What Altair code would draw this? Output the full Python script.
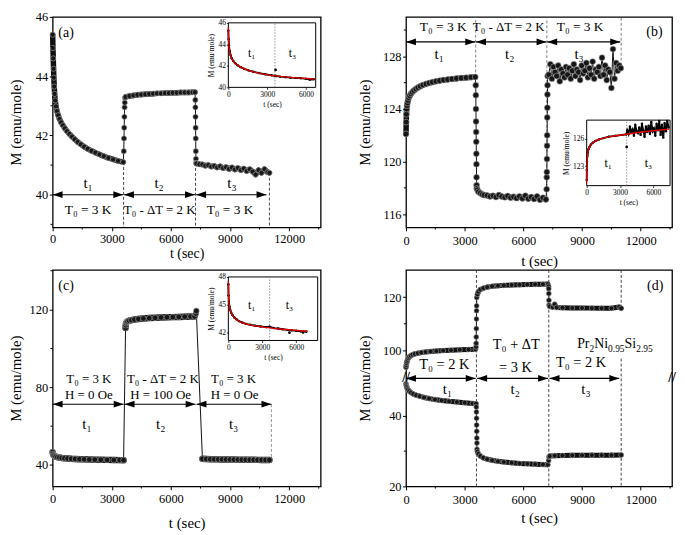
import altair as alt
import pandas as pd

FONT = "Liberation Serif"
XDOM = [0, 13600]
XTICKS = [0, 3000, 6000, 9000, 12000]
XMINOR = [1500, 4500, 7500, 10500, 13500]
Y_TITLE = "M (emu/mole)"
X_TITLE = "t (sec)"
LEFT_HEAD = "M0,0L2.5,-0.85L2.5,0.85Z"
RIGHT_HEAD = "M0,0L-2.5,-0.85L-2.5,0.85Z"

# ---------------- panel (a) ----------------
a_t1_t = [0, 15, 30, 45, 60, 80, 100, 130, 170, 220, 280, 350, 430, 520, 620, 730, 850, 980, 1120, 1270,
          1430, 1600, 1780, 1970, 2170, 2380, 2600, 2830, 3070, 3320, 3580]
a_t1_M = [45.4, 44.95, 44.6, 44.25, 43.95, 43.65, 43.4, 43.18, 42.98, 42.82, 42.68, 42.55, 42.44, 42.34, 42.24,
          42.14, 42.05, 41.96, 41.87, 41.78, 41.7, 41.62, 41.55, 41.48, 41.42, 41.36, 41.3, 41.24, 41.19, 41.14, 41.1]
a_up_t = [3610, 3620, 3630, 3640, 3650, 3660, 3670]
a_up_M = [41.47, 41.9, 42.26, 42.63, 42.95, 43.11, 43.27]
a_t2_t = [3700, 3900, 4100, 4300, 4500, 4700, 4900, 5100, 5300, 5500, 5700, 5900, 6100, 6300, 6500, 6700, 6900, 7100, 7220]
a_t2_M = [43.3, 43.33, 43.35, 43.37, 43.38, 43.39, 43.4, 43.41, 43.42, 43.42, 43.43, 43.43, 43.44, 43.44, 43.45,
          43.45, 43.45, 43.46, 43.46]
a_dn_t = [7240, 7245, 7250, 7255, 7260, 7265, 7270, 7275]
a_dn_M = [43.2, 42.95, 42.63, 42.26, 41.9, 41.47, 41.21, 41.07]
a_t3_t = [7300, 7450, 7600, 7750, 7900, 8050, 8200, 8350, 8500, 8650, 8800, 8950, 9100, 9250, 9400, 9550, 9700,
          9850, 10000, 10150, 10300, 10450, 10600, 10750, 10900, 11000]
a_t3_M = [41.05, 41.03, 41.02, 40.98, 41.0, 40.95, 40.97, 40.92, 40.96, 40.9, 40.93, 40.87, 40.92, 40.85, 40.9,
          40.83, 40.88, 40.8, 40.86, 40.78, 40.68, 40.83, 40.74, 40.86, 40.76, 40.74]
a_vl_t = [3600, 7250, 11000]
a_vl_y1 = [41.1, 41.07, 40.74]
a_vl_y2 = [38.9, 38.9, 38.9]
a_ar_x1 = [0, 3620, 7280]
a_ar_x2 = [3580, 7220, 10850]
a_ar_y = [40, 40, 40]
a_txt = [(680, 45.47, "(a)", 14), (1800, 40.38, "t₁", 15), (5400, 40.38, "t₂", 15), (9100, 40.38, "t₃", 15),
         (1800, 39.5, "T₀ = 3 K", 13.5), (5430, 39.5, "T₀ - ΔT = 2 K", 13), (9000, 39.5, "T₀ = 3 K", 13.5)]

ia_t = [0, 20, 50, 100, 170, 260, 380, 530, 720, 950, 1230, 1560, 1940, 2370, 2850, 3350, 3600, 3700, 4000,
        4400, 4800, 5200, 5600, 6000, 6300, 6600]
ia_M = [45.3, 44.5, 43.9, 43.4, 43.0, 42.7, 42.45, 42.25, 42.05, 41.88, 41.72, 41.58, 41.45, 41.33, 41.22, 41.12,
        41.08, 41.05, 41.0, 40.95, 40.9, 40.88, 40.85, 40.8, 40.72, 40.75]
ia_out_t = [3650]
ia_out_M = [41.62]
ia_fit_t = [0, 10, 30, 60, 100, 160, 250, 380, 550, 800, 1100, 1500, 2000, 2600, 3300, 4000, 4800, 5600, 6400, 6650]
ia_fit_M = [45.6, 44.9, 44.2, 43.7, 43.35, 43.0, 42.7, 42.45, 42.22, 42.0, 41.8, 41.6, 41.42, 41.26, 41.12, 41.02,
            40.93, 40.86, 40.8, 40.78]

# ---------------- panel (b) ----------------
b_t1_t = [0, 10, 20, 35, 50, 70, 100, 140, 190, 250, 320, 400, 500, 610, 730, 870, 1020, 1180, 1350, 1530, 1720,
          1920, 2130, 2350, 2580, 2820, 3070, 3320, 3540]
b_t1_M = [122.1, 123.0, 123.6, 124.0, 124.25, 124.45, 124.65, 124.85, 125.0, 125.15, 125.28, 125.4, 125.52,
          125.63, 125.73, 125.82, 125.9, 125.97, 126.04, 126.1, 126.15, 126.2, 126.24, 126.28, 126.32, 126.35,
          126.38, 126.41, 126.43]
b_dn_t = [3565, 3570, 3575, 3580, 3585, 3590, 3595, 3600, 3605, 3610, 3615]
b_dn_M = [125.8, 125.05, 124.0, 123.05, 122.25, 121.5, 120.6, 119.8, 118.8, 118.2, 117.95]
b_t2_t = [3650, 3700, 3800, 3900, 4000, 4150, 4300, 4450, 4600, 4750, 4900, 5050, 5200, 5350, 5500, 5650, 5800,
          5950, 6100, 6250, 6400, 6550, 6700, 6850, 7000, 7150]
b_t2_M = [117.85, 117.7, 117.6, 117.5, 117.45, 117.42, 117.35, 117.4, 117.3, 117.45, 117.35, 117.28, 117.38,
          117.25, 117.32, 117.22, 117.35, 117.2, 117.4, 117.18, 117.3, 117.15, 117.35, 117.1, 117.25, 117.12]
b_up_t = [7190, 7195, 7200, 7205, 7210, 7215, 7220, 7225, 7230, 7235, 7240]
b_up_M = [117.9, 118.8, 119.2, 120.2, 121.2, 122.0, 123.35, 124.1, 125.1, 125.8, 126.5]
b_t3_t = [7300, 7380, 7460, 7540, 7620, 7700, 7780, 7860, 7940, 8020, 8100, 8180, 8260, 8340, 8420, 8500, 8580,
          8660, 8740, 8820, 8900, 8980, 9060, 9140, 9220, 9300, 9380, 9460, 9540, 9620, 9700, 9780, 9860, 9940,
          10020, 10100, 10180, 10260, 10340, 10420, 10500, 10580, 10660, 10740, 10820, 10900, 10980]
b_t3_M = [126.6, 127.4, 126.3, 127.2, 126.8, 126.5, 127.3, 126.1, 127.0, 126.7, 126.4, 127.2, 126.6, 127.1, 126.3,
          126.9, 127.4, 126.5, 127.0, 126.8, 126.2, 127.3, 126.7, 126.9, 127.5, 126.4, 127.1, 126.6, 127.6, 126.3,
          127.0, 126.8, 127.2, 126.5, 127.9, 126.6, 127.3, 126.2, 127.0, 126.8, 125.6, 128.55, 126.3, 127.5, 126.9,
          127.3, 127.1]
b_vl_t = [3560, 7200, 11000]
b_vl_y1 = [126.4, 117.3, 127.3]
b_vl_y2 = [131, 131, 131]
b_ar_x1 = [0, 3580, 7220]
b_ar_x2 = [3540, 7180, 10950]
b_ar_y = [129.1, 129.1, 129.1]
b_txt = [(12700, 129.85, "(b)", 14), (1900, 130.2, "T₀ = 3 K", 13.5), (5250, 130.2, "T₀ - ΔT = 2 K", 13),
         (8900, 130.2, "T₀ = 3 K", 13.5), (1700, 128.2, "t₁", 15), (5300, 128.2, "t₂", 15), (8850, 128.2, "t₃", 15)]

ib_t = [0, 10, 30, 60, 100, 160, 250, 380, 550, 800, 1100, 1500, 2000, 2600, 3200, 3550,
        3650, 3770, 3890, 4010, 4130, 4250, 4370, 4490, 4610, 4730, 4850, 4970, 5090, 5210, 5330, 5450, 5570,
        5690, 5810, 5930, 6050, 6170, 6290, 6410, 6530, 6650, 6770, 6890, 7010, 7130, 7250, 7370]
ib_M = [121.5, 122.6, 123.5, 124.1, 124.5, 124.85, 125.1, 125.35, 125.55, 125.75, 125.9, 126.05, 126.2, 126.3,
        126.4, 126.45,
        126.9, 126.5, 127.3, 126.7, 127.0, 126.3, 127.5, 126.8, 126.6, 127.2, 126.4, 127.6, 126.9, 126.2, 127.3,
        126.7, 127.4, 126.5, 127.8, 126.8, 127.1, 126.3, 127.6, 126.9, 127.9, 126.4, 127.5, 126.1, 127.7, 126.8,
        127.9, 127.2]
ib_out_t = [3600]
ib_out_M = [125.1]
ib_fit_t = [0, 10, 30, 60, 100, 160, 250, 380, 550, 800, 1100, 1500, 2000, 2600, 3300, 4000, 4800, 5600, 6400,
            7200, 7400]
ib_fit_M = [121.2, 122.4, 123.3, 123.9, 124.4, 124.8, 125.1, 125.35, 125.55, 125.75, 125.9, 126.05, 126.18,
            126.3, 126.42, 126.55, 126.68, 126.8, 126.9, 127.0, 127.02]

# ---------------- panel (c) ----------------
c_t1_t = [0, 20, 50, 100, 160, 240, 340, 460, 600, 760, 940, 1140, 1360, 1600, 1860, 2140, 2440, 2760, 3100, 3400, 3600]
c_t1_M = [46.6, 45.6, 45.0, 44.6, 44.3, 44.05, 43.85, 43.65, 43.5, 43.35, 43.22, 43.12, 43.02, 42.93, 42.85,
          42.78, 42.7, 42.64, 42.58, 42.53, 42.5]
c_t2_t = [3700, 3710, 3730, 3760, 3800, 3880, 4000, 4150, 4350, 4600, 4900, 5200, 5500, 5800, 6100, 6400, 6700, 7000, 7200]
c_t2_M = [110.5, 112.0, 113.0, 113.6, 114.0, 114.3, 114.6, 114.9, 115.2, 115.45, 115.65, 115.8, 115.95, 116.05,
          116.15, 116.25, 116.35, 116.45, 116.5]
c_pk_t = [7270, 7290]
c_pk_M = [118.0, 119.3]
c_t3_t = [7600, 7800, 8000, 8200, 8400, 8600, 8800, 9000, 9200, 9400, 9600, 9800, 10000, 10200, 10400, 10600, 10800, 11000]
c_t3_M = [43.2, 43.1, 43.0, 42.95, 42.9, 42.88, 42.85, 42.82, 42.8, 42.78, 42.75, 42.72, 42.7, 42.68, 42.65,
          42.63, 42.6, 42.6]
c_vl_t = [11100]
c_vl_y1 = [71.3]
c_vl_y2 = [42.6]
c_ar_x1 = [0, 3650, 7300]
c_ar_x2 = [3600, 7250, 11100]
c_ar_y = [71.3, 71.3, 71.3]
c_txt = [(680, 132, "(c)", 14), (1835, 84.3, "T₀ = 3 K", 13), (1835, 76, "H = 0 Oe", 13),
         (5590, 84.3, "T₀ - ΔT = 2 K", 13), (5480, 76, "H = 100 Oe", 13), (9180, 84.3, "T₀ = 3 K", 13),
         (9230, 76, "H = 0 Oe", 13), (1740, 61, "t₁", 15), (5480, 61, "t₂", 15), (9180, 61, "t₃", 15)]

ic_t = [0, 20, 50, 100, 170, 260, 380, 530, 720, 950, 1230, 1560, 1940, 2370, 2850, 3350, 3650, 4000, 4400, 4800,
        5200, 5600, 6000, 6400, 6900]
ic_M = [47.2, 46.0, 45.3, 44.8, 44.4, 44.1, 43.85, 43.6, 43.4, 43.2, 43.05, 42.9, 42.8, 42.7, 42.62, 42.55, 42.6,
        42.45, 42.4, 42.32, 42.25, 42.2, 42.15, 42.1, 42.05]
ic_out_t = [5400, 6600]
ic_out_M = [41.95, 41.98]
ic_fit_t = [0, 10, 30, 60, 100, 160, 250, 380, 550, 800, 1100, 1500, 2000, 2600, 3300, 4000, 4800, 5600, 6400, 7000]
ic_fit_M = [47.5, 46.4, 45.6, 45.1, 44.7, 44.35, 44.05, 43.8, 43.55, 43.3, 43.1, 42.92, 42.77, 42.64, 42.52,
            42.42, 42.32, 42.24, 42.16, 42.1]

# ---------------- panel (d) ----------------
d_u1_t = [0, 15, 30, 50, 80, 120, 170, 240, 330, 450, 600, 780, 1000, 1250, 1550, 1900, 2300, 2750, 3200, 3550]
d_u1_M = [93.8, 94.6, 95.3, 95.9, 96.6, 97.2, 97.7, 98.1, 98.45, 98.75, 99.0, 99.25, 99.45, 99.65, 99.85, 100.0,
          100.15, 100.3, 100.4, 100.5]
d_uup_t = [3580, 3585, 3590, 3595, 3600, 3605, 3610, 3615]
d_uup_M = [101.4, 102.7, 105.1, 108.2, 111.8, 114.9, 116.7, 119.8]
d_u2_t = [3650, 3700, 3800, 3950, 4150, 4400, 4700, 5000, 5400, 5800, 6200, 6600, 7000, 7250]
d_u2_M = [121.0, 122.0, 122.8, 123.3, 123.7, 124.0, 124.2, 124.35, 124.5, 124.6, 124.7, 124.75, 124.8, 124.85]
d_udn_t = [7290, 7295, 7300, 7305, 7310]
d_udn_M = [124.0, 123.1, 121.3, 118.8, 117.0]
d_u3_t = [7350, 7500, 7600, 7700, 8000, 8500, 9000, 9500, 10000, 10500, 10900, 11000]
d_u3_M = [116.5, 116.2, 117.3, 116.1, 116.0, 115.9, 115.9, 115.85, 115.8, 115.8, 116.3, 115.8]
d_l1_t = [0, 15, 30, 60, 100, 160, 250, 370, 520, 700, 920, 1180, 1480, 1820, 2200, 2600, 3000, 3400, 3580]
d_l1_M = [49.0, 48.6, 48.2, 47.8, 47.4, 47.0, 46.6, 46.2, 45.85, 45.55, 45.2, 44.9, 44.6, 44.35, 44.1, 43.9,
          43.7, 43.5, 43.4]
d_ldn_t = [3595, 3600, 3605, 3610, 3615, 3620, 3625, 3630]
d_ldn_M = [42.5, 41.1, 39.3, 37.4, 35.6, 33.7, 32.3, 30.5]
d_l2_t = [3650, 3700, 3800, 3950, 4150, 4400, 4700, 5000, 5400, 5800, 6200, 6600, 7000, 7250]
d_l2_M = [29.8, 29.2, 28.6, 28.1, 27.7, 27.4, 27.1, 26.9, 26.7, 26.5, 26.4, 26.3, 26.2, 26.15]
d_lup_t = [7290, 7310]
d_lup_M = [27.3, 28.3]
d_l3_t = [7350, 7600, 8000, 8500, 9000, 9500, 10000, 10500, 11000]
d_l3_M = [28.6, 28.7, 28.75, 28.8, 28.8, 28.85, 28.85, 28.85, 28.9]
d_vl_t = [3600, 7300, 11000, 11000]
d_vl_y1 = [130.1, 130.1, 130.1, 97.0]
d_vl_y2 = [20, 20, 115.2, 20]
d_ar_x1 = [0, 3640, 7340]
d_ar_x2 = [3560, 7260, 10900]
d_ar_y = [70, 70, 70]
d_txt = [(12740, 124.0, "(d)", 14), (1960, 94.7, "T₀ = 2 K", 14.5), (5640, 102.0, "T₀ + ΔT", 14.5),
         (5600, 93.5, "= 3 K", 14.5), (8950, 95.4, "T₀ = 2 K", 14.5), (2120, 47.6, "t₁", 15),
         (5580, 47.6, "t₂", 15), (9200, 47.6, "t₃", 15)]
d_breaks_t = [0, 13600]
d_breaks_M = [70, 70]
d_formula = [("Pr", 14), ("2", 9.5), ("Ni", 14), ("0.95", 9.5), ("Si", 14), ("2.95", 9.5)]
d_formula_pos = (10680, 102.4)


def series_df(parts):
    rows = []
    i = 0
    for seg, (ts, ms, band, ser) in enumerate(parts):
        for t, m in zip(ts, ms):
            rows.append(dict(t=t, M=m, seg=seg, band=band, ser=ser, i=i))
            i += 1
    return pd.DataFrame(rows)


AX_COMMON = dict(labelFont=FONT, titleFont=FONT, labelColor="black", titleColor="black", tickColor="black",
                 titleFontWeight="normal", domain=False, grid=False, labelFlush=False, labelOverlap=False,
                 zindex=1, format="d")


def main_layers(cfg):
    W, H = cfg["W"], cfg["H"]
    xs = alt.Scale(domain=XDOM, nice=False, zero=False)
    ys = cfg["yscale"]
    xaxis = alt.Axis(values=XTICKS, title=X_TITLE, orient="bottom", labelFontSize=12.5,
                     titleFontSize=cfg["xtfs"], tickSize=3.5, tickWidth=1, labelPadding=cfg["xlp"],
                     titlePadding=cfg["xtp"], **AX_COMMON)
    yaxis = alt.Axis(values=cfg["yticks"], title=Y_TITLE, orient="left", labelFontSize=12.5,
                     titleFontSize=15, tickSize=3.5, tickWidth=1, labelPadding=1.5, titleX=cfg["titleX"],
                     titleY=H / 2, **AX_COMMON)

    def X(f):
        return alt.X(f, type="quantitative", scale=xs, axis=xaxis)

    def Y(f):
        return alt.Y(f, type="quantitative", scale=ys, axis=yaxis)

    df = series_df(cfg["parts"])
    L = []
    vl = pd.DataFrame({"t": cfg["vl_t"], "y1": cfg["vl_y1"], "y2": cfg["vl_y2"]})
    L.append(alt.Chart(vl).mark_rule(strokeDash=[3, 2], strokeWidth=0.9, color=cfg["vlc"]).encode(
        x=X("t"), y=Y("y1"), y2="y2"))
    ar = pd.DataFrame({"x1": cfg["ar_x1"], "x2": cfg["ar_x2"], "y": cfg["ar_y"]})
    L.append(alt.Chart(ar).mark_rule(strokeWidth=1.2, color="black").encode(x=X("x1"), x2="x2", y=Y("y")))
    L.append(alt.Chart(ar).mark_point(shape=LEFT_HEAD, filled=True, size=64, color="black", opacity=1).encode(
        x=X("x1"), y=Y("y")))
    L.append(alt.Chart(ar).mark_point(shape=RIGHT_HEAD, filled=True, size=64, color="black", opacity=1).encode(
        x=X("x2"), y=Y("y")))
    band = df[df["band"]]
    L.append(alt.Chart(band).mark_line(strokeWidth=cfg["bw"], color="#111111", strokeCap="round",
                                       strokeJoin="round").encode(
        x=X("t"), y=Y("M"), detail="seg:N", order="i:Q"))
    L.append(alt.Chart(df).mark_line(strokeWidth=1, color="#111111").encode(
        x=X("t"), y=Y("M"), detail="ser:N", order="i:Q"))
    L.append(alt.Chart(df).mark_circle(size=cfg["ps"], color="#161616", opacity=1, stroke="#a8a8a8",
                                       strokeWidth=0.6).encode(x=X("t"), y=Y("M")))
    tx = pd.DataFrame(cfg["texts"], columns=["t", "M", "label", "size"])
    L.append(alt.Chart(tx).mark_text(font=FONT, color="black").encode(
        x=X("t"), y=Y("M"), text="label:N", size=alt.Size("size:Q", scale=None)))
    mx = pd.DataFrame({"t": XMINOR})
    L.append(alt.Chart(mx).mark_rule(color="black", strokeWidth=1).encode(
        x=X("t"), y=alt.value(H), y2=alt.value(H + 2.2)))
    my = pd.DataFrame({"M": cfg["yminor"]})
    L.append(alt.Chart(my).mark_rule(color="black", strokeWidth=1).encode(
        y=Y("M"), x=alt.value(0), x2=alt.value(-2.2)))
    if "breaks" in cfg:
        bt, bm = cfg["breaks"]
        bdf = pd.DataFrame({"t": bt, "M": bm})
        L.append(alt.Chart(bdf).mark_text(font=FONT, fontSize=14, fontWeight="bold", color="black",
                                          text="//").encode(x=X("t"), y=Y("M")))
    if "formula" in cfg:
        parts, (ft, fm) = cfg["formula"]
        widths = {"P": 0.556, "r": 0.333, "N": 0.722, "i": 0.278, "S": 0.556, ".": 0.25}
        total = 0
        offs = []
        for s, fs in parts:
            offs.append(total)
            total += sum(widths.get(ch, 0.5) for ch in s) * fs
        fdf = pd.DataFrame({"t": [ft], "M": [fm]})
        for (s, fs), o in zip(parts, offs):
            sub = fs < 12
            L.append(alt.Chart(fdf).mark_text(font=FONT, color="black", align="left", fontSize=fs,
                                              dx=o - total / 2, dy=5 if sub else 0, text=s).encode(
                x=X("t"), y=Y("M")))
    return alt.layer(*L)


def inset_layers(ic, H):
    xs = alt.Scale(domain=ic["xdom"], range=ic["xr"], nice=False, zero=False)
    ys = alt.Scale(domain=ic["ydom"], range=[ic["yr"][1], ic["yr"][0]], nice=False, zero=False)
    xaxis = alt.Axis(orient="bottom", offset=ic["yr"][1] - H, values=[0, 3000, 6000],
                     title=X_TITLE, labelFontSize=7.5, titleFontSize=7.5, tickSize=2, tickWidth=0.8,
                     labelPadding=1, titlePadding=3, **AX_COMMON)
    yaxis = alt.Axis(orient="left", offset=-ic["xr"][0], values=ic["yticks"], title=Y_TITLE,
                     labelFontSize=7.5, titleFontSize=7.5, tickSize=2, tickWidth=0.8, labelPadding=1,
                     titlePadding=2, **AX_COMMON)

    def X(f):
        return alt.X(f, type="quantitative", scale=xs, axis=xaxis)

    def Y(f):
        return alt.Y(f, type="quantitative", scale=ys, axis=yaxis)

    L = []
    fr = pd.DataFrame({"x0": [ic["xdom"][0]], "x1": [ic["xdom"][1]], "y0": [ic["ydom"][0]], "y1": [ic["ydom"][1]]})
    L.append(alt.Chart(fr).mark_rect(fill="white", stroke="black", strokeWidth=1).encode(
        x=X("x0"), x2="x1", y=Y("y0"), y2="y1"))
    dl = pd.DataFrame({"t": [ic["div"]], "y0": [ic["ydom"][0]], "y1": [ic["ydom"][1]]})
    L.append(alt.Chart(dl).mark_rule(strokeDash=[1.5, 1.5], strokeWidth=0.8, color="#777777").encode(
        x=X("t"), y=Y("y0"), y2="y1"))
    d = pd.DataFrame({"t": ic["t"], "M": ic["M"]})
    L.append(alt.Chart(d).mark_line(strokeWidth=1.8, color="black").encode(x=X("t"), y=Y("M")))
    L.append(alt.Chart(d).mark_circle(size=6, color="black", opacity=1).encode(x=X("t"), y=Y("M")))
    o = pd.DataFrame({"t": ic["out_t"], "M": ic["out_M"]})
    L.append(alt.Chart(o).mark_circle(size=8, color="black", opacity=1).encode(x=X("t"), y=Y("M")))
    f = pd.DataFrame({"t": ic["fit_t"], "M": ic["fit_M"]})
    L.append(alt.Chart(f).mark_line(strokeWidth=1.4, color="#e00000").encode(x=X("t"), y=Y("M")))
    lb = pd.DataFrame(ic["labels"], columns=["t", "M", "label"])
    L.append(alt.Chart(lb).mark_text(font=FONT, fontSize=12, color="black").encode(
        x=X("t"), y=Y("M"), text="label:N"))
    return alt.layer(*L)


def panel(cfg, ic=None):
    m = main_layers(cfg)
    if ic is None:
        ch = m
    else:
        ch = alt.layer(m, inset_layers(ic, cfg["H"])).resolve_scale(x="independent", y="independent")
    return ch.properties(width=cfg["W"], height=cfg["H"])


cfg_a = dict(W=270, H=212, yscale=alt.Scale(domain=[38.9, 46], nice=False, zero=False),
             yticks=[40, 42, 44, 46], yminor=[39, 41, 43, 45], titleX=-29, xtfs=14, xlp=2, xtp=1,
             parts=[(a_t1_t, a_t1_M, True, 0), (a_up_t, a_up_M, False, 0), (a_t2_t, a_t2_M, True, 0),
                    (a_dn_t, a_dn_M, False, 0), (a_t3_t, a_t3_M, True, 0)],
             vl_t=a_vl_t, vl_y1=a_vl_y1, vl_y2=a_vl_y2, vlc="#333333",
             ar_x1=a_ar_x1, ar_x2=a_ar_x2, ar_y=a_ar_y, texts=a_txt, bw=5.5, ps=28)
ins_a = dict(xdom=[0, 6750], ydom=[40, 46], xr=[177, 265], yr=[6, 71], yticks=[40, 42, 44, 46], div=3600,
             t=ia_t, M=ia_M, out_t=ia_out_t, out_M=ia_out_M, fit_t=ia_fit_t, fit_M=ia_fit_M,
             labels=[(1800, 43.2, "t₁"), (4950, 43.2, "t₃")])

cfg_b = dict(W=268, H=212, yscale=alt.Scale(domain=[115, 131], nice=False, zero=False),
             yticks=[116, 120, 124, 128], yminor=[118, 122, 126, 130], titleX=-34, xtfs=15, xlp=4, xtp=6,
             parts=[(b_t1_t, b_t1_M, True, 0), (b_dn_t, b_dn_M, False, 0), (b_t2_t, b_t2_M, True, 0),
                    (b_up_t, b_up_M, False, 0), (b_t3_t, b_t3_M, False, 0)],
             vl_t=b_vl_t, vl_y1=b_vl_y1, vl_y2=b_vl_y2, vlc="#777777",
             ar_x1=b_ar_x1, ar_x2=b_ar_x2, ar_y=b_ar_y, texts=b_txt, bw=5.5, ps=36)
ins_b = dict(xdom=[0, 7500], ydom=[120.9, 128], xr=[182, 266], yr=[104, 170], yticks=[123, 126], div=3600,
             t=ib_t, M=ib_M, out_t=ib_out_t, out_M=ib_out_M, fit_t=ib_fit_t, fit_M=ib_fit_M,
             labels=[(1940, 123.3, "t₁"), (5560, 123.3, "t₃")])

cfg_c = dict(W=270, H=218, yscale=alt.Scale(domain=[29, 140.4], nice=False, zero=False),
             yticks=[40, 80, 120], yminor=[60, 100, 140], titleX=-29, xtfs=15, xlp=3, xtp=10,
             parts=[(c_t1_t, c_t1_M, True, 0), (c_t2_t, c_t2_M, True, 0), (c_pk_t, c_pk_M, False, 0),
                    (c_t3_t, c_t3_M, True, 0)],
             vl_t=c_vl_t, vl_y1=c_vl_y1, vl_y2=c_vl_y2, vlc="#888888",
             ar_x1=c_ar_x1, ar_x2=c_ar_x2, ar_y=c_ar_y, texts=c_txt, bw=6.5, ps=34)
ins_c = dict(xdom=[0, 7900], ydom=[41.1, 48], xr=[177, 267], yr=[7, 71], yticks=[42, 45, 48], div=3650,
             t=ic_t, M=ic_M, out_t=ic_out_t, out_M=ic_out_M, fit_t=ic_fit_t, fit_M=ic_fit_M,
             labels=[(2070, 44.9, "t₁"), (5400, 44.9, "t₃")])

HD = 218
BRK = 109.2
cfg_d = dict(W=268, H=HD,
             yscale=alt.Scale(domain=[20, 50.6, 89.6, 130.1], range=[HD, BRK, BRK, 0], nice=False, zero=False),
             yticks=[20, 40, 100, 120], yminor=[30, 110], titleX=-34, xtfs=15, xlp=3.5, xtp=4.5,
             parts=[(d_u1_t, d_u1_M, True, 0), (d_uup_t, d_uup_M, False, 0), (d_u2_t, d_u2_M, True, 0),
                    (d_udn_t, d_udn_M, False, 0), (d_u3_t, d_u3_M, True, 0),
                    (d_l1_t, d_l1_M, True, 1), (d_ldn_t, d_ldn_M, False, 1), (d_l2_t, d_l2_M, True, 1),
                    (d_lup_t, d_lup_M, False, 1), (d_l3_t, d_l3_M, True, 1)],
             vl_t=d_vl_t, vl_y1=d_vl_y1, vl_y2=d_vl_y2, vlc="#333333",
             ar_x1=d_ar_x1, ar_x2=d_ar_x2, ar_y=d_ar_y, texts=d_txt, bw=5, ps=26,
             breaks=(d_breaks_t, d_breaks_M), formula=(d_formula, d_formula_pos))

pa = panel(cfg_a, ins_a)
pb = panel(cfg_b, ins_b)
pc = panel(cfg_c, ins_c)
pd_ = panel(cfg_d)

chart = alt.concat(pa, pb, pc, pd_, columns=2, spacing=alt.RowColnumber(row=43, column=86),
                   bounds="flush", align="each").properties(padding=0).configure_view(
    stroke="black", strokeWidth=1.3).configure_axis(
    labelFont=FONT, titleFont=FONT, labelColor="black", titleColor="black", tickColor="black",
    titleFontWeight="normal").configure_text(font=FONT)

chart.save("out.html", embed_options={"renderer": "svg", "actions": False})
